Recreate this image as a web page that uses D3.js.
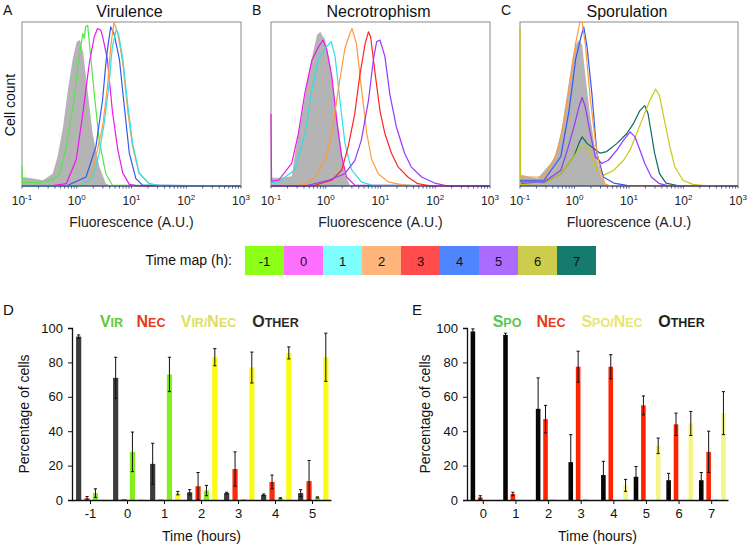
<!DOCTYPE html>
<html>
<head>
<meta charset="utf-8">
<script src="https://cdn.jsdelivr.net/npm/d3@7"></script>
<style>
  body { margin: 0; background: #fff; }
  svg { font-family: "Liberation Sans", Arial, sans-serif; }
</style>
</head>
<body>
<svg id="fig" width="750" height="547"></svg>
<script>
// ---------- DATA ----------
// histogram curves: [log10 fluorescence, relative cell count]
var aControl = [[-1,0.055],[-0.8,0.045],[-0.62,0.035],[-0.44,0.075],[-0.35,0.18],[-0.25,0.36],[-0.16,0.59],[-0.07,0.78],[0,0.88],[0.06,0.89],[0.12,0.81],[0.18,0.63],[0.29,0.32],[0.41,0.12],[0.53,0.015],[0.62,0],[3,0]];
var aMinus1 = [[-1,0.12],[-0.99,0.02],[-0.68,0.02],[-0.44,0.04],[-0.32,0.07],[-0.19,0.24],[-0.07,0.48],[0.02,0.73],[0.11,0.93],[0.14,0.9],[0.16,0.97],[0.2,0.98],[0.24,0.84],[0.32,0.56],[0.41,0.28],[0.53,0.075],[0.65,0.005],[3,0]];
var a0 = [[-1,0],[-0.5,0],[-0.19,0.015],[-0.01,0.16],[0.11,0.44],[0.23,0.75],[0.32,0.91],[0.38,0.96],[0.44,0.95],[0.48,0.9],[0.56,0.77],[0.65,0.46],[0.75,0.22],[0.84,0.08],[0.96,0.01],[1.14,0],[3,0]];
var a4 = [[-1,0],[-0.19,0],[0.17,0.055],[0.35,0.24],[0.47,0.52],[0.53,0.74],[0.56,0.83],[0.62,0.97],[0.68,0.93],[0.78,0.77],[0.87,0.48],[0.96,0.2],[1.08,0.045],[1.2,0.005],[3,0]];
var a2 = [[-1,0],[-0.01,0],[0.23,0.03],[0.35,0.18],[0.47,0.36],[0.56,0.6],[0.62,0.85],[0.68,1.0],[0.75,0.93],[0.84,0.75],[0.93,0.46],[1.02,0.24],[1.14,0.075],[1.32,0.015],[1.56,0],[3,0]];
var a1 = [[-1,0],[0.05,0],[0.29,0.05],[0.41,0.2],[0.5,0.38],[0.59,0.62],[0.65,0.85],[0.72,0.95],[0.76,0.93],[0.84,0.78],[0.93,0.5],[1.02,0.26],[1.14,0.08],[1.32,0.015],[1.56,0],[3,0]];

var bControl = [[-1,0.05],[-0.8,0.05],[-0.62,0.06],[-0.56,0.2],[-0.44,0.42],[-0.32,0.67],[-0.22,0.83],[-0.16,0.92],[-0.1,0.94],[-0.01,0.89],[0.08,0.73],[0.17,0.52],[0.26,0.28],[0.35,0.075],[0.44,0.005],[3,0]];
var b0 = [[-1,0.44],[-0.99,0.03],[-0.86,0.035],[-0.62,0.14],[-0.5,0.32],[-0.38,0.57],[-0.25,0.77],[-0.13,0.85],[-0.05,0.89],[0.02,0.83],[0.11,0.67],[0.2,0.4],[0.29,0.18],[0.38,0.055],[0.53,0.005],[3,0]];
var b1 = [[-1,0.02],[-0.86,0.025],[-0.56,0.1],[-0.38,0.32],[-0.25,0.59],[-0.13,0.78],[-0.01,0.84],[0.1,0.88],[0.17,0.79],[0.26,0.52],[0.35,0.26],[0.47,0.1],[0.65,0.025],[0.84,0.005],[3,0]];
var b2 = [[-1,0],[-0.56,0],[-0.38,0.01],[-0.19,0.055],[-0.01,0.16],[0.11,0.32],[0.23,0.59],[0.35,0.84],[0.44,0.93],[0.48,0.96],[0.56,0.87],[0.65,0.6],[0.75,0.32],[0.84,0.16],[0.96,0.075],[1.14,0.025],[1.38,0.008],[1.68,0],[3,0]];
var b3 = [[-1,0],[-0.25,0],[0.11,0.035],[0.29,0.096],[0.41,0.24],[0.53,0.44],[0.62,0.67],[0.72,0.87],[0.78,0.94],[0.82,0.91],[0.9,0.69],[0.99,0.46],[1.08,0.32],[1.2,0.2],[1.32,0.117],[1.5,0.055],[1.68,0.014],[1.93,0],[3,0]];
var b5 = [[-1,0],[-0.38,0],[0.05,0.035],[0.35,0.075],[0.53,0.155],[0.65,0.28],[0.78,0.52],[0.87,0.77],[0.93,0.88],[0.99,0.89],[1.08,0.79],[1.17,0.56],[1.29,0.36],[1.44,0.2],[1.56,0.117],[1.75,0.055],[1.99,0.018],[2.23,0],[3,0]];

var cControl = [[-1,0.07],[-0.68,0.045],[-0.38,0.16],[-0.25,0.32],[-0.13,0.57],[-0.04,0.77],[0.02,0.86],[0.08,0.89],[0.14,0.86],[0.2,0.67],[0.29,0.42],[0.38,0.22],[0.47,0.075],[0.56,0.01],[0.62,0],[3,0]];
var c2 = [[-1,0.055],[-0.56,0.055],[-0.32,0.2],[-0.19,0.4],[-0.07,0.67],[0.02,0.87],[0.1,1.0],[0.14,1.0],[0.2,0.86],[0.29,0.53],[0.38,0.28],[0.47,0.095],[0.56,0.014],[0.65,0],[3,0]];
var c4 = [[-1,0.035],[-0.56,0.035],[-0.25,0.18],[-0.1,0.46],[0.02,0.77],[0.12,0.91],[0.17,0.97],[0.23,0.85],[0.32,0.56],[0.41,0.2],[0.53,0.055],[0.72,0.018],[0.96,0.004],[3,0]];
var c5 = [[-1,0.025],[-0.56,0.025],[-0.25,0.096],[-0.13,0.22],[-0.01,0.36],[0.08,0.48],[0.14,0.54],[0.2,0.48],[0.29,0.32],[0.38,0.18],[0.5,0.137],[0.62,0.157],[0.78,0.22],[0.9,0.28],[1.02,0.33],[1.11,0.3],[1.2,0.22],[1.29,0.137],[1.41,0.055],[1.56,0.014],[1.75,0],[3,0]];
var c7 = [[-1,0.015],[-0.56,0.018],[-0.25,0.075],[-0.01,0.18],[0.08,0.26],[0.14,0.3],[0.23,0.26],[0.35,0.23],[0.47,0.2],[0.59,0.21],[0.78,0.26],[0.96,0.32],[1.08,0.38],[1.2,0.46],[1.29,0.49],[1.35,0.44],[1.41,0.32],[1.47,0.2],[1.56,0.075],[1.68,0.018],[1.93,0],[3,0]];
var c6 = [[-1,0.97],[-0.99,0.01],[-0.56,0.018],[-0.25,0.075],[-0.01,0.18],[0.11,0.24],[0.2,0.25],[0.29,0.2],[0.41,0.096],[0.53,0.065],[0.72,0.096],[0.9,0.157],[1.02,0.22],[1.14,0.32],[1.26,0.42],[1.38,0.52],[1.49,0.59],[1.56,0.55],[1.65,0.4],[1.75,0.24],[1.84,0.117],[1.99,0.035],[2.17,0.01],[2.47,0],[3,0]];

var decades = [-1, 0, 1, 2, 3];

// time map
var timeLabels = ["-1", "0", "1", "2", "3", "4", "5", "6", "7"];
var timeFills = ["#8cff17", "#ff70ff", "#7dffff", "#ffb57b", "#ff4b4b", "#5185ff", "#ab6bff", "#cdcd4d", "#167a6c"];
var lineColors = ["#55e64a", "#ee16ee", "#2ee0e6", "#ff9a3a", "#ff2424", "#3558ee", "#9438ff", "#c8c814", "#0b6b60"];

// panel D
var groupsD = ["-1", "0", "1", "2", "3", "4", "5"];
var otherD = [95, 71, 21, 4.5, 4, 3, 4];
var otherDErr = [1, 12, 12, 1.5, 0.5, 0.5, 2];
var necD = [1, 0.5, 0.3, 8, 18, 10.5, 11];
var necDErr = [1, 0, 0, 8, 10, 4, 12];
var virD = [4, 28, 73, 5.5, 0.5, 1, 1.5];
var virDErr = [2.5, 11.5, 10, 3, 0, 0.3, 0.3];
var virNecD = [0.3, 0.5, 4, 83, 77, 85.5, 83];
var virNecDErr = [0, 0, 1, 5, 9, 3.5, 14];

// panel E
var groupsE = ["0", "1", "2", "3", "4", "5", "6", "7"];
var otherE = [98, 96, 53, 22, 14.5, 13.5, 11.5, 11.5];
var otherEErr = [1.5, 1, 18, 16, 8, 6, 4, 4.5];
var necE = [1.5, 3.5, 47, 77.5, 77.5, 55, 44, 28];
var necEErr = [1, 1, 8, 9, 7, 5.5, 6.5, 12];
var spoE = [0, 0, 0.2, 0.3, 0, 0, 0, 0.2];
var spoEErr = [0, 0, 0, 0, 0, 0, 0, 0];
var spoNecE = [0, 0, 0, 0, 8.5, 31.5, 44.5, 50.5];
var spoNecEErr = [0, 0, 0, 0, 3.5, 4.5, 7, 12.5];

var yTicks = [0, 20, 40, 60, 80, 100];

// ---------- DRAWING ----------
var svg = d3.select("#fig");
var histTop = 22, histBottom = 186;

function histPanel(x0, x1, letter, title, control, curves) {
  var g = svg.append("g");
  var x = d3.scaleLog().domain([0.1, 1000]).range([x0, x1]);
  var y = d3.scaleLinear().domain([0, 1]).range([histBottom, histTop]);
  var px = function(d) { return x(Math.pow(10, d[0])); };

  g.append("path").datum(control)
    .attr("d", d3.area().x(px).y0(y(0)).y1(function(d) { return y(d[1]); }))
    .attr("fill", "#b4b4b4");

  g.append("rect").attr("x", x0).attr("y", histTop).attr("width", x1 - x0).attr("height", histBottom - histTop)
    .attr("fill", "none").attr("stroke", "#8a8a8a").attr("stroke-width", 1);

  curves.forEach(function(c) {
    g.append("path").datum(c.pts)
      .attr("d", d3.line().x(px).y(function(d) { return y(d[1]); }))
      .attr("fill", "none").attr("stroke", lineColors[c.t]).attr("stroke-width", 1.2)
      .attr("stroke-linejoin", "round");
  });

  // bottom axis
  g.append("line").attr("x1", x0).attr("x2", x1).attr("y1", histBottom).attr("y2", histBottom)
    .attr("stroke", "#2b3a78").attr("stroke-width", 1.2);
  g.selectAll(".minor").data(x.ticks()).enter().append("line")
    .attr("x1", function(d) { return x(d); }).attr("x2", function(d) { return x(d); })
    .attr("y1", histBottom).attr("y2", histBottom + 2.5)
    .attr("stroke", "#2b3a78").attr("stroke-width", 0.8);

  var lab = g.selectAll(".dec").data(decades).enter().append("text")
    .attr("x", function(d) { return x(Math.pow(10, d)); })
    .attr("y", 205).attr("text-anchor", "middle")
    .style("font-size", "12px").attr("fill", "#222");
  lab.append("tspan").text("10");
  lab.append("tspan").attr("dy", -5).style("font-size", "8px").text(function(d) { return d; });

  g.append("text").attr("x", (x0 + x1) / 2).attr("y", 227).attr("text-anchor", "middle")
    .style("font-size", "14px").attr("fill", "#222").text("Fluorescence (A.U.)");
  g.append("text").attr("x", (x0 + x1) / 2 - 2).attr("y", 17).attr("text-anchor", "middle")
    .style("font-size", "16px").attr("fill", "#111").text(title);
  g.append("text").attr("x", x0 - 19).attr("y", 15)
    .style("font-size", "14px").attr("fill", "#111").text(letter);
}

histPanel(22, 241, "A", "Virulence", aControl,
  [{t: 0, pts: aMinus1}, {t: 1, pts: a0}, {t: 5, pts: a4}, {t: 3, pts: a2}, {t: 2, pts: a1}]);
histPanel(271, 490, "B", "Necrotrophism", bControl,
  [{t: 1, pts: b0}, {t: 2, pts: b1}, {t: 3, pts: b2}, {t: 4, pts: b3}, {t: 6, pts: b5}]);
histPanel(520, 738, "C", "Sporulation", cControl,
  [{t: 8, pts: c7}, {t: 7, pts: c6}, {t: 6, pts: c5}, {t: 5, pts: c4}, {t: 3, pts: c2}]);

svg.append("text").attr("transform", "translate(15,105) rotate(-90)").attr("text-anchor", "middle")
  .style("font-size", "14px").attr("fill", "#111").text("Cell count");

// time map legend
var tm = d3.scaleBand().domain(timeLabels).range([245, 596]);
svg.append("text").attr("x", 232).attr("y", 265).attr("text-anchor", "end")
  .style("font-size", "14px").attr("fill", "#111").text("Time map (h):");
svg.selectAll(".tm").data(timeLabels).enter().append("rect")
  .attr("x", function(d) { return tm(d); }).attr("y", 246)
  .attr("width", tm.bandwidth()).attr("height", 29)
  .attr("fill", function(d, i) { return timeFills[i]; });
svg.selectAll(".tml").data(timeLabels).enter().append("text")
  .attr("x", function(d) { return tm(d) + tm.bandwidth() / 2; }).attr("y", 266)
  .attr("text-anchor", "middle").style("font-size", "13px").attr("fill", "#111")
  .text(function(d) { return d; });

// small caps legend word
function smallCaps(x, y, word, color) {
  var t = svg.append("text").attr("x", x).attr("y", y).attr("text-anchor", "middle")
    .style("font-weight", "bold").attr("fill", color);
  var runs = [];
  word.split("").forEach(function(ch) {
    var big = ch !== "/" && ch === ch.toUpperCase();
    if (runs.length && runs[runs.length - 1].big === big) runs[runs.length - 1].s += ch;
    else runs.push({big: big, s: ch});
  });
  runs.forEach(function(r) {
    t.append("tspan").style("font-size", r.big ? "16px" : "12.5px").text(r.s.toUpperCase());
  });
}

function barPanel(opt) {
  var g = svg.append("g");
  var x = d3.scaleBand().domain(opt.groups).range([opt.x0, opt.x1]);
  var sub = d3.scaleBand().domain(d3.range(opt.series.length))
    .range([x.bandwidth() * 0.11, x.bandwidth() * 0.93]).paddingInner(0.38);
  var y = d3.scaleLinear().domain([0, 100]).range([500, 328]);

  opt.series.forEach(function(s, si) {
    g.selectAll(".b" + si).data(s.vals).enter().append("rect")
      .attr("x", function(d, i) { return x(opt.groups[i]) + sub(si); })
      .attr("y", function(d) { return y(d); })
      .attr("width", sub.bandwidth())
      .attr("height", function(d) { return y(0) - y(d); })
      .attr("fill", s.color);
    s.err.forEach(function(e, i) {
      if (!e) return;
      var cx = x(opt.groups[i]) + sub(si) + sub.bandwidth() / 2;
      var v = s.vals[i];
      g.append("line").attr("x1", cx).attr("x2", cx)
        .attr("y1", y(v + e)).attr("y2", y(Math.max(v - e, 0)))
        .attr("stroke", "#111").attr("stroke-width", 1);
      [v + e, Math.max(v - e, 0)].forEach(function(yy) {
        g.append("line").attr("x1", cx - 1.6).attr("x2", cx + 1.6)
          .attr("y1", y(yy)).attr("y2", y(yy)).attr("stroke", "#111").attr("stroke-width", 1);
      });
    });
  });

  var yAxis = g.append("g").attr("transform", "translate(" + opt.x0 + ",0)")
    .call(d3.axisLeft(y).tickValues(yTicks).tickSize(4).tickPadding(5));
  yAxis.selectAll("text").style("font-size", "13px").attr("fill", "#111")
    .style("font-family", "Liberation Sans, Arial, sans-serif");
  var xAxis = g.append("g").attr("transform", "translate(0,500)")
    .call(d3.axisBottom(x).tickSize(4).tickPadding(5).tickSizeOuter(0));
  xAxis.selectAll("text").style("font-size", "13px").attr("fill", "#111")
    .style("font-family", "Liberation Sans, Arial, sans-serif");
  g.selectAll(".domain").attr("stroke", "#111").attr("stroke-width", 1.3);
  g.selectAll(".tick line").attr("stroke", "#111");

  g.append("text").attr("x", (opt.x0 + opt.x1) / 2).attr("y", 541).attr("text-anchor", "middle")
    .style("font-size", "14px").attr("fill", "#111").text("Time (hours)");
  g.append("text").attr("transform", "translate(" + opt.yLabelX + ",414) rotate(-90)")
    .attr("text-anchor", "middle").style("font-size", "14px").attr("fill", "#111").text("Percentage of cells");
  g.append("text").attr("x", opt.letterX).attr("y", 315).style("font-size", "15px").attr("fill", "#111").text(opt.letter);

  opt.legend.forEach(function(l) { smallCaps(l.x, 327, l.word, l.color); });
}

barPanel({
  groups: groupsD, x0: 72, x1: 331, letter: "D", letterX: 3, yLabelX: 29,
  series: [
    {vals: otherD, err: otherDErr, color: "#3c3c3c"},
    {vals: necD, err: necDErr, color: "#ff2a0d"},
    {vals: virD, err: virDErr, color: "#86ee1f"},
    {vals: virNecD, err: virNecDErr, color: "#fbfb10"}
  ],
  legend: [
    {x: 111.5, word: "Vir", color: "#62c93a"},
    {x: 151, word: "Nec", color: "#e53b22"},
    {x: 208.5, word: "Vir/Nec", color: "#dede62"},
    {x: 275.5, word: "Other", color: "#2b2b2b"}
  ]
});

barPanel({
  groups: groupsE, x0: 467, x1: 728, letter: "E", letterX: 412, yLabelX: 430,
  series: [
    {vals: otherE, err: otherEErr, color: "#050505"},
    {vals: necE, err: necEErr, color: "#ff2400"},
    {vals: spoE, err: spoEErr, color: "#66dd33"},
    {vals: spoNecE, err: spoNecEErr, color: "#f5f58a"}
  ],
  legend: [
    {x: 507, word: "Spo", color: "#55c94f"},
    {x: 551, word: "Nec", color: "#e53b22"},
    {x: 612, word: "Spo/Nec", color: "#e6e673"},
    {x: 681.5, word: "Other", color: "#1f1f1f"}
  ]
});
</script>
</body>
</html>
